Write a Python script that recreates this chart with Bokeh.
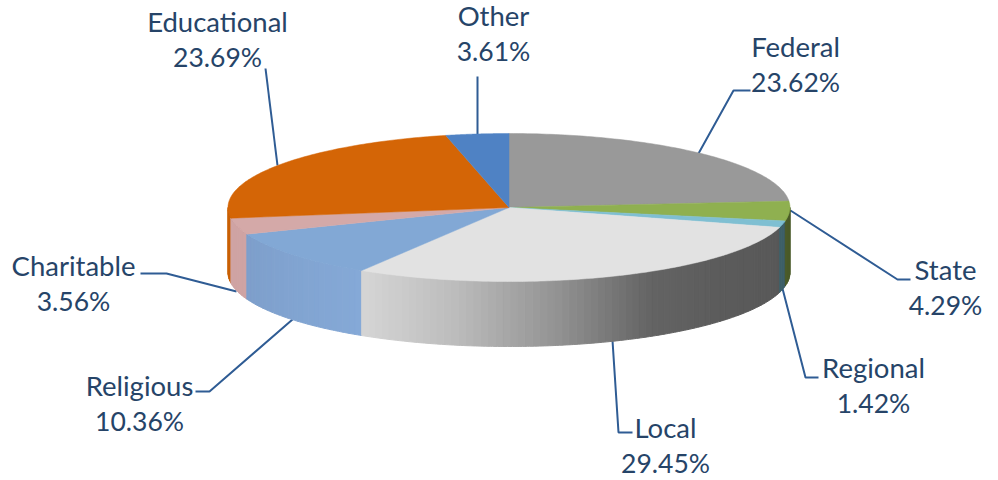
import numpy as np
from bokeh.plotting import figure
from bokeh.models import Range1d, ColumnDataSource
from bokeh.core.properties import value
from bokeh.embed import file_html
from bokeh.resources import INLINE

# ---- data ----
categories = ["Federal", "State", "Regional", "Local", "Religious", "Charitable", "Educational", "Other"]
shares = [23.62, 4.29, 1.42, 29.45, 10.36, 3.56, 23.69, 3.61]

# ---- styles / layout ----
top_colors = ["#999999", "#8FB050", "#7FBFD2", "#E2E2E2", "#82A8D5", "#D4A9A8", "#D46506", "#4F82C4"]
side_start = ["#999999", "#4A5A28", "#3E5F68", "#D9D9D9", "#85A9D7", "#CFA3A3", "#C96004", "#4F82C4"]
side_end = ["#999999", "#4A5A28", "#3E5F68", "#5C5C5C", "#7E9FCB", "#CFA3A3", "#C96004", "#4F82C4"]
CX, CY, RX, RY, DEPTH = 508.5, 207.0, 281.0, 74.0, 65.0
TEXT = "#264468"
LEAD = "#2F5C94"
FONT = "Lato"
NAME_SIZE = "27.5px"
PCT_SIZE = "26.5px"
LINE_H = 36
label_xy = {
    "Federal": (795, 45.5), "State": (945, 268.5), "Regional": (873, 366.5), "Local": (665, 426.5),
    "Religious": (139, 384.5), "Charitable": (73, 264.5), "Educational": (217, 20.5), "Other": (493, 14.5),
}
leaders = {
    "Federal": [(698, 153), (733, 90), (750, 90)],
    "State": [(790, 210), (897, 279), (910, 279)],
    "Regional": [(782, 288), (805, 377), (818, 377)],
    "Local": [(612, 340), (618, 432), (632, 432)],
    "Religious": [(292, 319), (209, 391), (195, 391)],
    "Charitable": [(236, 291), (166, 273), (140, 273)],
    "Educational": [(277, 165), (265, 68)],
    "Other": [(477, 134), (477, 76)],
}


def px(t):
    return CX + RX * np.sin(t)


def py(t):
    return CY - RY * np.cos(t)


def hex_rgb(h):
    return np.array([int(h[i:i + 2], 16) for i in (1, 3, 5)], float)


def grey_at(x):
    g = np.interp(x, [360, 450, 550, 650, 720, 785], [214, 190, 150, 100, 92, 88])
    return "#%02x%02x%02x" % (int(g), int(g), int(g))


p = figure(width=998, height=480, output_backend="svg", toolbar_location=None,
           x_range=Range1d(0, 998), y_range=Range1d(480, 0), min_border=0,
           background_fill_color="white", border_fill_color="white", outline_line_color=None)
p.axis.visible = False
p.grid.visible = False

edges = np.radians(np.concatenate([[0], np.cumsum(shares)]) * 3.6)

# leader lines under the pie
for name in categories:
    xs, ys = zip(*leaders[name])
    p.line(list(xs), list(ys), line_color=LEAD, line_width=2)

# side walls: only the front half (90..270 degrees clockwise from the top) shows
side_order = [6, 5, 4, 3, 2, 1]
for i in side_order:
    a, b = max(edges[i], np.pi / 2), min(edges[i + 1], 3 * np.pi / 2)
    if a >= b:
        continue
    n = max(2, int((b - a) / np.radians(1.5)))
    cuts = np.linspace(a, b, n + 1)
    sxs, sys, cols = [], [], []
    for k in range(n):
        t = np.linspace(cuts[k], cuts[k + 1], 4)
        tx, ty = px(t), py(t)
        sxs.append(np.concatenate([tx, tx[::-1]]).tolist())
        sys.append(np.concatenate([ty, ty[::-1] + DEPTH]).tolist())
        if categories[i] == "Local":
            cols.append(grey_at(tx.mean()))
        else:
            f = k / max(1, n - 1)
            c = hex_rgb(side_start[i]) * (1 - f) + hex_rgb(side_end[i]) * f
            cols.append("#%02x%02x%02x" % tuple(int(v) for v in c))
    p.patches(sxs, sys, fill_color=cols, line_color=cols, line_width=1)

# top face
for i in range(len(shares)):
    t = np.linspace(edges[i], edges[i + 1], 90)
    xs = np.concatenate([[CX], px(t)])
    ys = np.concatenate([[CY], py(t)])
    p.patch(xs.tolist(), ys.tolist(), fill_color=top_colors[i], line_color=top_colors[i], line_width=0.5)

# labels
nx, ny, px_txt = [], [], []
vy, vt = [], []
for name, v in zip(categories, shares):
    x, y = label_xy[name]
    nx.append(x)
    ny.append(y)
    vy.append(y + LINE_H)
    vt.append(f"{v:.2f}%")
names_src = ColumnDataSource(dict(x=nx, y=ny, t=categories))
pct_src = ColumnDataSource(dict(x=nx, y=vy, t=vt))
p.text("x", "y", text="t", source=names_src, text_font=value(FONT), text_font_size=value(NAME_SIZE),
       text_color=TEXT, text_align="center", text_baseline="middle")
p.text("x", "y", text="t", source=pct_src, text_font=value(FONT), text_font_size=value(PCT_SIZE),
       text_color=TEXT, text_align="center", text_baseline="middle")

open("out.html", "w").write(file_html(p, INLINE))
